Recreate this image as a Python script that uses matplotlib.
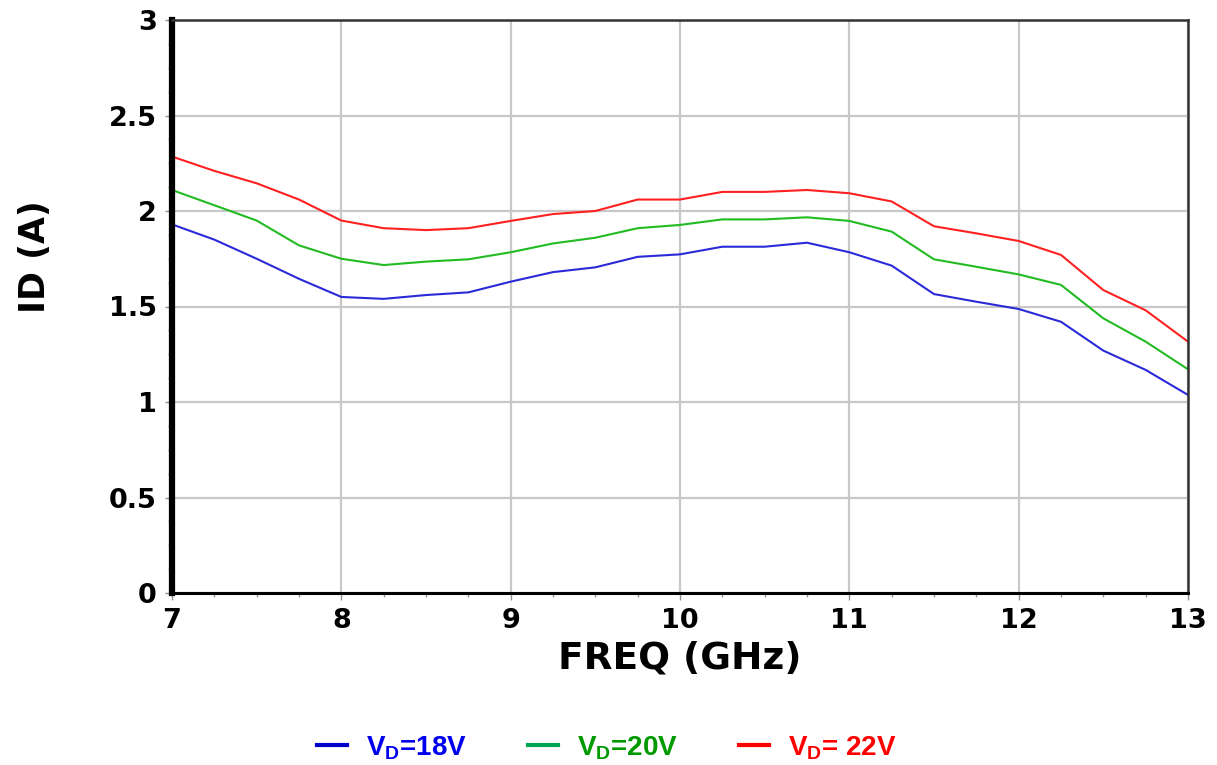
import numpy as np
import matplotlib
matplotlib.use('Agg')
import matplotlib.pyplot as plt
from matplotlib.ticker import MultipleLocator
from matplotlib.lines import Line2D

plt.rcParams['font.family'] = ['DejaVu Sans']
plt.rcParams['font.weight'] = 'bold'
plt.rcParams['mathtext.fontset'] = 'custom'
plt.rcParams['mathtext.rm'] = 'Liberation Sans:bold'
plt.rcParams['mathtext.bf'] = 'Liberation Sans:bold'

# ---------------------------------------------------------------------
#                               data                                  |
# ---------------------------------------------------------------------
freq = [7.0, 7.25, 7.5, 7.75, 8.0, 8.25, 8.5, 8.75, 9.0, 9.25, 9.5, 9.75,
        10.0, 10.25, 10.5, 10.75, 11.0, 11.25, 11.5, 11.75, 12.0, 12.25,
        12.5, 12.75, 13.0]
id_18v = [1.93, 1.85, 1.75, 1.645, 1.55, 1.54, 1.56, 1.574, 1.63, 1.68,
          1.705, 1.76, 1.773, 1.813, 1.813, 1.834, 1.784, 1.714, 1.565,
          1.525, 1.487, 1.42, 1.269, 1.168, 1.037]
id_20v = [2.11, 2.03, 1.95, 1.82, 1.75, 1.717, 1.735, 1.747, 1.784, 1.83,
          1.86, 1.91, 1.927, 1.956, 1.956, 1.967, 1.948, 1.892, 1.747,
          1.708, 1.668, 1.613, 1.438, 1.316, 1.171]
id_22v = [2.285, 2.21, 2.145, 2.06, 1.95, 1.91, 1.90, 1.91, 1.948, 1.984,
          2.00, 2.06, 2.06, 2.10, 2.10, 2.11, 2.093, 2.05, 1.92, 1.883,
          1.843, 1.77, 1.586, 1.48, 1.316]
labels = [r"V$_\mathrm{D}$=18V", r"V$_\mathrm{D}$=20V", r"V$_\mathrm{D}$= 22V"]

# ---------------------------------------------------------------------
#                               plot                                  |
# ---------------------------------------------------------------------
fig = plt.figure(figsize=(12.17, 7.65), dpi=100)
ax = fig.add_axes([172/1217, 1 - 593/765, (1188 - 172)/1217, (593 - 20)/765])

ax.plot(freq, id_18v, c='#2a2ad8', lw=1.5)
ax.plot(freq, id_20v, c='#22bb22', lw=1.5)
ax.plot(freq, id_22v, c='#ff2020', lw=1.5)

ax.set_xlim(7, 13)
ax.set_ylim(0, 3)
ax.xaxis.set_major_locator(MultipleLocator(1))
ax.xaxis.set_minor_locator(MultipleLocator(0.25))
ax.yaxis.set_major_locator(MultipleLocator(0.5))
ax.yaxis.set_minor_locator(MultipleLocator(0.125))
ax.yaxis.set_major_formatter(plt.FuncFormatter(lambda v, p: '%g' % v))
ax.grid(True, which='major', color='#c8c8c8', lw=1.6)
ax.set_axisbelow(True)

ax.tick_params(which='both', direction='out', color='#909090', width=1)
ax.tick_params(which='major', length=5, labelsize=19.5, pad=6)
ax.tick_params(which='minor', length=3)

ax.spines['left'].set_linewidth(4.5)
ax.spines['left'].set_color('black')
ax.spines['bottom'].set_linewidth(2.2)
ax.spines['bottom'].set_color('black')
for s in ['top', 'right']:
    ax.spines[s].set_linewidth(1.8)
    ax.spines[s].set_color('#333333')

ax.set_xlabel("FREQ (GHz)", fontsize=27, fontweight='bold')
ax.xaxis.set_label_coords(0.5, (593 - 658) / 573, transform=ax.transAxes)
ax.set_ylabel("ID (A)", fontsize=25, fontweight='bold')
ax.yaxis.set_label_coords((35 - 172) / 1016, (593 - 257) / 573, transform=ax.transAxes)
ax.xaxis.label.set_verticalalignment('center')
ax.yaxis.label.set_verticalalignment('center')

handles = [Line2D([], [], c='#0000cc', lw=3),
           Line2D([], [], c='#00a651', lw=3),
           Line2D([], [], c='#ff0000', lw=3)]
leg = fig.legend(handles, labels, loc='center', bbox_to_anchor=(607/1217, 1 - 748/765),
                 ncol=3, frameon=False, fontsize=20, handlelength=1.08,
                 handletextpad=0.68, columnspacing=2.2, prop={'family': 'Liberation Sans', 'weight': 'bold', 'size': 20})
for t, col in zip(leg.get_texts(), ['#0000ee', '#009900', '#ff0000']):
    t.set_color(col)

fig.savefig('out.png', dpi=100)
